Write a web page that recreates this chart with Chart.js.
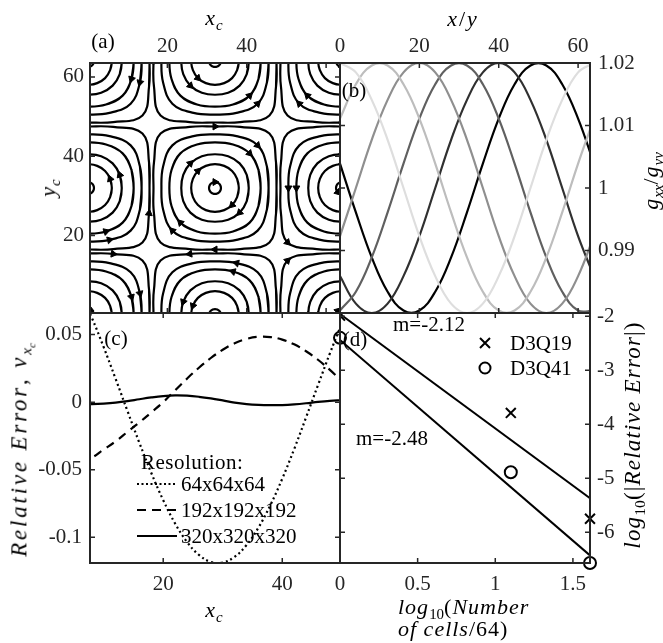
<!DOCTYPE html>
<html>
<head>
<meta charset="utf-8">
<script src="https://cdn.jsdelivr.net/npm/chart.js@4.4.1/dist/chart.umd.min.js"></script>
<style>
  body { margin: 0; background: #fff; }
  #lienzo { position: relative; width: 663px; height: 643px; overflow: hidden;
            font-family: 'Liberation Serif', 'Times New Roman', serif; color: #000; }
  #lienzo canvas { position: absolute; left: 0; top: 0; }
  .txt { position: absolute; white-space: nowrap; font-size: 21px; line-height: 1;
         transform: translate(-50%, -50%); }
  .rot { transform: translate(-50%, -50%) rotate(-90deg); }
  .izq { transform: translate(0, -50%); }
  .mat { font-size: 22px; letter-spacing: 1px; }
  sub { font-size: 0.68em; vertical-align: -0.35em; line-height: 0; letter-spacing: 0; }
</style>
</head>
<body>
<div id="lienzo">
  <canvas id="panelA" width="663" height="643"></canvas>
  <canvas id="panelB" width="663" height="643"></canvas>
  <canvas id="panelC" width="663" height="643"></canvas>
  <canvas id="panelD" width="663" height="643"></canvas>

  <div class="txt" style="left:103px;top:41px">(a)</div>
  <div class="txt" style="left:354px;top:90px">(b)</div>
  <div class="txt" style="left:116px;top:338px">(c)</div>
  <div class="txt" style="left:355px;top:339px">(d)</div>

  <div class="txt mat" style="left:214px;top:18px"><i>x<sub>c</sub></i></div>
  <div class="txt mat" style="left:463px;top:19px;letter-spacing:2px"><i>x</i>/<i>y</i></div>
  <div class="txt rot mat" style="left:48px;top:188px"><i>y<sub>c</sub></i></div>
  <div class="txt rot mat" style="left:651px;top:181px"><i>g<sub>xx</sub></i>/<i>g<sub>yy</sub></i></div>
  <div class="txt rot mat" style="left:20px;top:450px;font-size:23px;letter-spacing:2.8px"><i>Relative Error</i>, <i>v<sub>x<sub>c</sub></sub></i></div>
  <div class="txt rot mat" style="left:632px;top:435px;font-size:23px;letter-spacing:1.2px"><i>log</i><sub>10</sub>(|<i>Relative Error</i>|)</div>
  <div class="txt mat" style="left:214px;top:610px"><i>x<sub>c</sub></i></div>
  <div class="txt izq mat" style="left:398px;top:607px"><i>log</i><sub>10</sub>(<i>Number</i></div>
  <div class="txt izq mat" style="left:398px;top:629px"><i>of cells</i>/64)</div>

  <div class="txt" style="left:429px;top:324px">m=-2.12</div>
  <div class="txt" style="left:392px;top:438px">m=-2.48</div>

  <!-- leyenda (c) -->
  <div class="txt izq" style="left:141px;top:462px;letter-spacing:0.5px">Resolution:</div>
  <svg style="position:absolute;left:137px;top:474px" width="42" height="70">
    <line x1="0" y1="10" x2="40" y2="10" stroke="#000" stroke-width="2" stroke-dasharray="2 2.5"/>
    <line x1="0" y1="36" x2="40" y2="36" stroke="#000" stroke-width="2" stroke-dasharray="9 6"/>
    <line x1="0" y1="62" x2="40" y2="62" stroke="#000" stroke-width="2"/>
  </svg>
  <div class="txt izq" style="left:181px;top:484px">64x64x64</div>
  <div class="txt izq" style="left:181px;top:510px">192x192x192</div>
  <div class="txt izq" style="left:181px;top:536px">320x320x320</div>

  <!-- leyenda (d) -->
  <svg style="position:absolute;left:476px;top:334px" width="20" height="45">
    <path d="M4 4 L14 14 M14 4 L4 14" stroke="#000" stroke-width="2"/>
    <circle cx="9" cy="34" r="5.5" fill="none" stroke="#000" stroke-width="2"/>
  </svg>
  <div class="txt izq" style="left:510px;top:343px">D3Q19</div>
  <div class="txt izq" style="left:510px;top:368px">D3Q41</div>
</div>

<script>
const fuente = "'Liberation Serif', 'Times New Roman', serif";

// (a) vortices: centro y sentido (1 = horario en pantalla)
const vortexX = [32, 0, 64, 32, 32, 0, 64, 0, 64];
const vortexY = [32, 32, 32, 0, 64, 0, 0, 64, 64];
const vortexSpin = [1, -1, -1, -1, -1, 1, 1, 1, 1];
// radio de cada linea de corriente a 0, 22.5 y 45 grados
const loopR0 = [1.5, 6, 8.5, 11.5, 13.5, 15.5];
const loopR22 = [1.5, 6.03, 8.66, 11.86, 14.16, 16.65];
const loopR45 = [1.5, 6.09, 8.78, 12.34, 15.2, 19.4];
const arrowAt = [4, 14, 6, 10, 2, 12];

// (b) g_xx/g_yy
const xB = [0, 4, 8, 12, 16, 20, 24, 28, 32, 36, 40, 44, 48, 52, 56, 60, 64];
const gPeak0 = [1.0200, 1.0185, 1.0141, 1.0077, 1.0000, 0.9923, 0.9859, 0.9815, 0.9800, 0.9815, 0.9859, 0.9923, 1.0000, 1.0077, 1.0141, 1.0185, 1.0200];
const gPeak10 = [1.0111, 1.0166, 1.0196, 1.0196, 1.0166, 1.0111, 1.0039, 0.9961, 0.9889, 0.9834, 0.9804, 0.9804, 0.9834, 0.9889, 0.9961, 1.0039, 1.0111];
const gPeak20 = [0.9923, 1.0000, 1.0077, 1.0141, 1.0185, 1.0200, 1.0185, 1.0141, 1.0077, 1.0000, 0.9923, 0.9859, 0.9815, 0.9800, 0.9815, 0.9859, 0.9923];
const gPeak30 = [0.9804, 0.9834, 0.9889, 0.9961, 1.0039, 1.0111, 1.0166, 1.0196, 1.0196, 1.0166, 1.0111, 1.0039, 0.9961, 0.9889, 0.9834, 0.9804, 0.9804];
const gPeak40 = [0.9859, 0.9815, 0.9800, 0.9815, 0.9859, 0.9923, 1.0000, 1.0077, 1.0141, 1.0185, 1.0200, 1.0185, 1.0141, 1.0077, 1.0000, 0.9923, 0.9859];
const gPeak50 = [1.0039, 0.9961, 0.9889, 0.9834, 0.9804, 0.9804, 0.9834, 0.9889, 0.9961, 1.0039, 1.0111, 1.0166, 1.0196, 1.0196, 1.0166, 1.0111, 1.0039];
const grises = ['#dedede', '#bdbdbd', '#8f8f8f', '#606060', '#303030', '#000000'];

// (c) error relativo
const xC = [6, 8, 10, 12, 14, 16, 18, 20, 22, 24, 26, 28, 30, 32, 34, 36, 38, 40, 42, 44, 46, 48, 50];
const err64 = [0.0822, 0.0626, 0.0407, 0.0173, -0.0066, -0.0301, -0.0524, -0.0725, -0.0898, -0.1034, -0.1130, -0.1182, -0.1186, -0.1144, -0.1057, -0.0928, -0.0762, -0.0566, -0.0347, -0.0113, 0.0126, 0.0361, 0.0584];
const err192 = [-0.043, -0.041, -0.035, -0.029, -0.022, -0.015, -0.0075, 0.0000, 0.0088, 0.0174, 0.0255, 0.0327, 0.0388, 0.0436, 0.0468, 0.0484, 0.0482, 0.0463, 0.0428, 0.0377, 0.0314, 0.0239, 0.0157];
const err320 = [-0.0015, -0.0014, -0.0010, -0.0003, 0.0008, 0.0022, 0.0035, 0.0045, 0.0050, 0.0048, 0.0040, 0.0028, 0.0013, -0.0003, -0.0014, -0.0020, -0.0022, -0.0021, -0.0016, -0.0008, 0.0002, 0.0010, 0.0015];

// (d) convergencia
const xD = [0, 1.1, 1.61];
const errQ19 = [-1.99, -3.79, -5.75];
const errQ41 = [-2.40, -4.89, -6.57];
const xFit = [0, 1.61];
const fit212 = [-1.96, -5.37];
const fit248 = [-2.44, -6.43];

// marcas
const ticksAx = [20, 40, 60], labelsAx = ['20', '40', ''];
const ticksAy = [20, 40, 60], labelsAy = ['20', '40', '60'];
const ticksBx = [0, 20, 40, 60], labelsBx = ['0', '20', '40', '60'];
const ticksBy = [0.98, 0.99, 1, 1.01, 1.02], labelsBy = ['', '0.99', '1', '1.01', '1.02'];
const ticksCx = [20, 40], labelsCx = ['20', '40'];
const ticksCy = [-0.1, -0.05, 0, 0.05], labelsCy = ['-0.1', '-0.05', '0', '0.05'];
const ticksDx = [0, 0.5, 1, 1.5], labelsDx = ['0', '0.5', '1', '1.5'];
const ticksDy = [-6, -5, -4, -3, -2], labelsDy = ['-6', '-5', '-4', '-3', '-2'];

function puntos(xs, ys) {
  return xs.map((x, i) => ({ x: x, y: ys[i] }));
}

function eje(pos, min, max, valores, etiquetas, tam, pad) {
  return {
    type: 'linear', position: pos, min: min, max: max,
    grid: { display: false, drawTicks: false },
    border: { display: false },
    afterBuildTicks: s => { s.ticks = valores.map(v => ({ value: v })); },
    afterFit: s => { if (s.isHorizontal()) s.height = tam; else s.width = tam; },
    ticks: { autoSkip: false, maxRotation: 0, padding: pad, color: '#262626',
             font: { family: fuente, size: 21 }, callback: (v, i) => etiquetas[i] }
  };
}

// caja con marcas hacia dentro, estilo matlab
const marco = {
  id: 'marco',
  afterDatasetsDraw(chart) {
    const ctx = chart.ctx, a = chart.chartArea;
    ctx.save();
    ctx.strokeStyle = '#262626';
    ctx.lineWidth = 1.5;
    ctx.beginPath();
    Object.values(chart.scales).forEach(s => {
      s.ticks.forEach(t => {
        const p = s.getPixelForValue(t.value);
        if (s.isHorizontal()) {
          ctx.moveTo(p, a.top); ctx.lineTo(p, a.top + 5);
          ctx.moveTo(p, a.bottom); ctx.lineTo(p, a.bottom - 5);
        } else {
          ctx.moveTo(a.left, p); ctx.lineTo(a.left + 5, p);
          ctx.moveTo(a.right, p); ctx.lineTo(a.right - 5, p);
        }
      });
    });
    ctx.stroke();
    ctx.lineWidth = 2;
    ctx.strokeRect(a.left, a.top, a.right - a.left, a.bottom - a.top);
    ctx.restore();
  }
};

function opciones(padding, escalas) {
  return {
    responsive: false, animation: false, events: [],
    layout: { padding: padding },
    elements: { line: { capBezierPoints: false } },
    plugins: { legend: { display: false }, tooltip: { enabled: false } },
    scales: escalas
  };
}

// (a) lineas de corriente
const datosA = [];
vortexX.forEach((cx, v) => {
  const cy = vortexY[v];
  const sentido = -vortexSpin[v];
  loopR0.forEach((r0, n) => {
    const radios = [r0, loopR22[n], loopR45[n], loopR22[n]];
    const pts = [];
    for (let k = -1; k <= 17; k++) {
      const ang = k * Math.PI / 8;
      const r = radios[((k % 4) + 4) % 4];
      pts.push({ x: cx + r * Math.cos(ang), y: cy + r * Math.sin(ang) });
    }
    const marcas = n === 0 ? [arrowAt[n]] : [arrowAt[n], arrowAt[n] + 8];
    marcas.forEach(m => {
      const k = (m + 3 * v) % 16 + 1;
      const dx = (pts[k + 1].x - pts[k - 1].x) * sentido;
      const dy = (pts[k + 1].y - pts[k - 1].y) * sentido;
      pts[k].flecha = true;
      pts[k].giro = Math.atan2(dx, dy) * 180 / Math.PI;
    });
    datosA.push({
      data: pts, borderColor: '#000', borderWidth: 2.2, tension: 0.4, clip: 0,
      pointStyle: 'triangle', pointBackgroundColor: '#000', pointBorderColor: '#000', pointBorderWidth: 1,
      pointRadius: c => (c.raw && c.raw.flecha) ? 4 : 0,
      pointRotation: c => (c.raw && c.raw.giro) || 0
    });
  });
});

new Chart(document.getElementById('panelA'), {
  type: 'line',
  data: { datasets: datosA },
  options: opciones({ left: 25, top: 18, right: 323, bottom: 330 }, {
    x: eje('top', 0.5, 63.5, ticksAx, labelsAx, 45, 4),
    y: eje('left', 0.5, 63.5, ticksAy, labelsAy, 65, 6)
  }),
  plugins: [marco]
});

// (b)
const seriesB = [gPeak0, gPeak10, gPeak20, gPeak30, gPeak40, gPeak50];
new Chart(document.getElementById('panelB'), {
  type: 'line',
  data: {
    datasets: seriesB.map((s, i) => ({
      data: puntos(xB, s), borderColor: grises[i], borderWidth: 2.2, tension: 0.4,
      pointRadius: 0, clip: 0
    }))
  },
  options: opciones({ left: 340, top: 18, right: 13, bottom: 330 }, {
    x: eje('top', 0, 63, ticksBx, labelsBx, 45, 4),
    y: eje('right', 0.98, 1.02, ticksBy, labelsBy, 60, 8)
  }),
  plugins: [marco]
});

// (c)
new Chart(document.getElementById('panelC'), {
  type: 'line',
  data: {
    datasets: [
      { data: puntos(xC, err64), borderColor: '#000', borderWidth: 2.2, borderDash: [2, 3], tension: 0.4, pointRadius: 0, clip: 0 },
      { data: puntos(xC, err192), borderColor: '#000', borderWidth: 2.2, borderDash: [9, 6], tension: 0.4, pointRadius: 0, clip: 0 },
      { data: puntos(xC, err320), borderColor: '#000', borderWidth: 2.2, tension: 0.4, pointRadius: 0, clip: 0 }
    ]
  },
  options: opciones({ left: 25, top: 313, right: 323, bottom: 35 }, {
    x: eje('bottom', 7.7, 49.7, ticksCx, labelsCx, 45, 9),
    y: eje('left', -0.119, 0.066, ticksCy, labelsCy, 65, 8)
  }),
  plugins: [marco]
});

// (d)
new Chart(document.getElementById('panelD'), {
  type: 'line',
  data: {
    datasets: [
      { data: puntos(xFit, fit212), borderColor: '#000', borderWidth: 2, pointRadius: 0, clip: 0 },
      { data: puntos(xFit, fit248), borderColor: '#000', borderWidth: 2, pointRadius: 0, clip: 0 },
      { data: puntos(xD, errQ19), showLine: false, pointStyle: 'crossRot', pointRadius: 7,
        pointBorderWidth: 2, pointBorderColor: '#000', clip: { left: 0, top: 0, right: 10, bottom: 10 } },
      { data: puntos(xD, errQ41), showLine: false, pointStyle: 'circle', pointRadius: 6,
        pointBorderWidth: 2, pointBorderColor: '#000', pointBackgroundColor: 'rgba(0,0,0,0)',
        clip: { left: 8, top: 0, right: 10, bottom: 10 } }
    ]
  },
  options: opciones({ left: 340, top: 313, right: 13, bottom: 35 }, {
    x: eje('bottom', 0, 1.61, ticksDx, labelsDx, 45, 9),
    y: eje('right', -6.57, -1.94, ticksDy, labelsDy, 60, 7)
  }),
  plugins: [marco]
});
</script>
</body>
</html>
